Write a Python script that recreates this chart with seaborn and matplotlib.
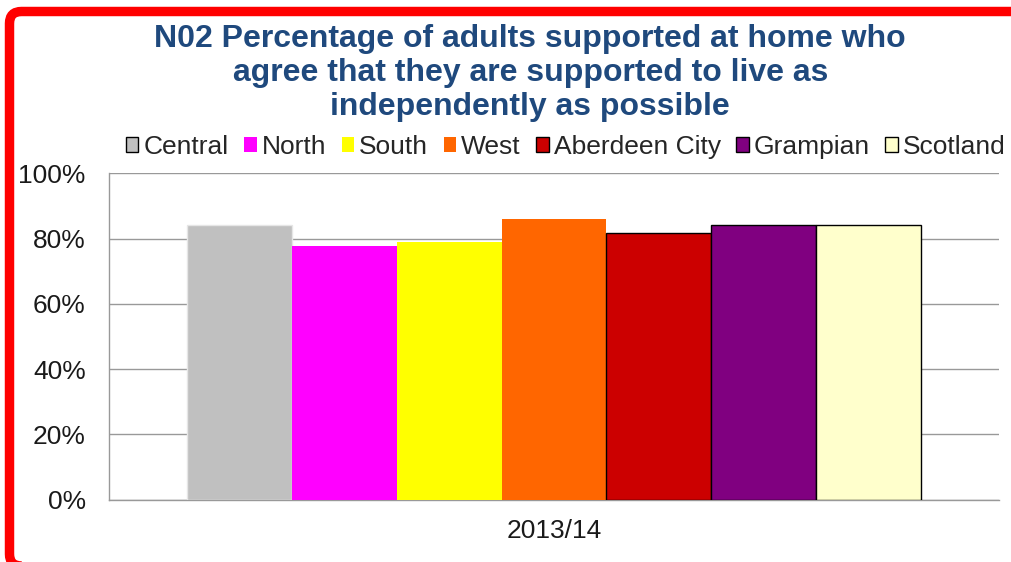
import pandas as pd
import numpy as np
import seaborn as sns
import matplotlib.pyplot as plt
from matplotlib.patches import Patch, FancyBboxPatch
from matplotlib.ticker import PercentFormatter
from matplotlib.transforms import IdentityTransform

# データ
years = ["2013/14"]
regions = ["Central", "North", "South", "West", "Aberdeen City", "Grampian", "Scotland"]
values = [0.842, 0.777, 0.789, 0.859, 0.817, 0.842, 0.842]
colors = ["#C0C0C0", "#FF00FF", "#FFFF00", "#FF6600", "#CC0000", "#800080", "#FFFFCC"]
edges = ["#E6E6E6", "none", "none", "none", "black", "black", "black"]
title = ("N02 Percentage of adults supported at home who\n"
         "agree that they are supported to live as\n"
         "independently as possible")

df = pd.DataFrame({"year": years * len(regions), "region": regions, "value": values})

sns.set_theme(style="white")
plt.rcParams["font.family"] = ["Liberation Sans", "DejaVu Sans"]

fig = plt.figure(figsize=(10.12, 5.62), dpi=100)
ax = fig.add_axes([0.1077, 0.1112, 0.8795, 0.5804])

sns.barplot(data=df, x="year", y="value", hue="region", hue_order=regions,
            palette=colors, width=0.825, saturation=1, ax=ax, legend=False, zorder=3)
for bar, ec in zip(ax.patches, edges):
    bar.set_edgecolor(ec)
    bar.set_linewidth(1.0)

# 軸の設定
grid_c = "#999999"
ax.set_ylim(0, 1)
ax.set_xlim(-0.5, 0.5)
ax.set_yticks(np.arange(0, 1.01, 0.2))
ax.yaxis.set_major_formatter(PercentFormatter(1.0, decimals=0))
ax.yaxis.grid(True, color=grid_c, linewidth=1.0, zorder=0)
ax.set_axisbelow(True)
ax.set_xticks([-0.5, 0.5], labels=["", ""])
ax.set_xticks([0], labels=years, minor=True)
ax.tick_params(axis="x", which="major", length=6, width=1.0, color=grid_c, direction="out")
ax.tick_params(axis="x", which="minor", length=0, labelsize=19, pad=14, labelcolor="#1a1a1a")
ax.tick_params(axis="y", length=5.8, width=1.0, color=grid_c, direction="out",
               labelsize=19, pad=11, labelcolor="#1a1a1a")
ax.set_xlabel("")
ax.set_ylabel("")
for side in ["top", "right"]:
    ax.spines[side].set_visible(False)
for side in ["left", "bottom"]:
    ax.spines[side].set_color(grid_c)
    ax.spines[side].set_linewidth(1.0)

# 凡例
handles = [Patch(facecolor=c, edgecolor=("none" if e == "none" else "black"), linewidth=1.0)
           for c, e in zip(colors, edges)]
fig.legend(handles, regions, loc="center left", bbox_to_anchor=(126 / 1012, 1 - 147 / 562),
           ncol=7, frameon=False, fontsize=19, handlelength=0.47, handleheight=0.47,
           handletextpad=0.2, columnspacing=0.58, borderpad=0, borderaxespad=0)

# タイトル
fig.text(0.524, 1 - 24 / 562, title, ha="center", va="top", fontsize=23, fontweight="bold",
         color="#1F497D", linespacing=1.17)

# 赤い枠
frame = FancyBboxPatch((9.5, -4), 1100, 554.5, boxstyle="round,pad=0,rounding_size=12",
                       transform=IdentityTransform(), facecolor="none", edgecolor="#FF0000",
                       linewidth=6.8, clip_on=False)
fig.add_artist(frame)

fig.savefig("out.png", dpi=100)
